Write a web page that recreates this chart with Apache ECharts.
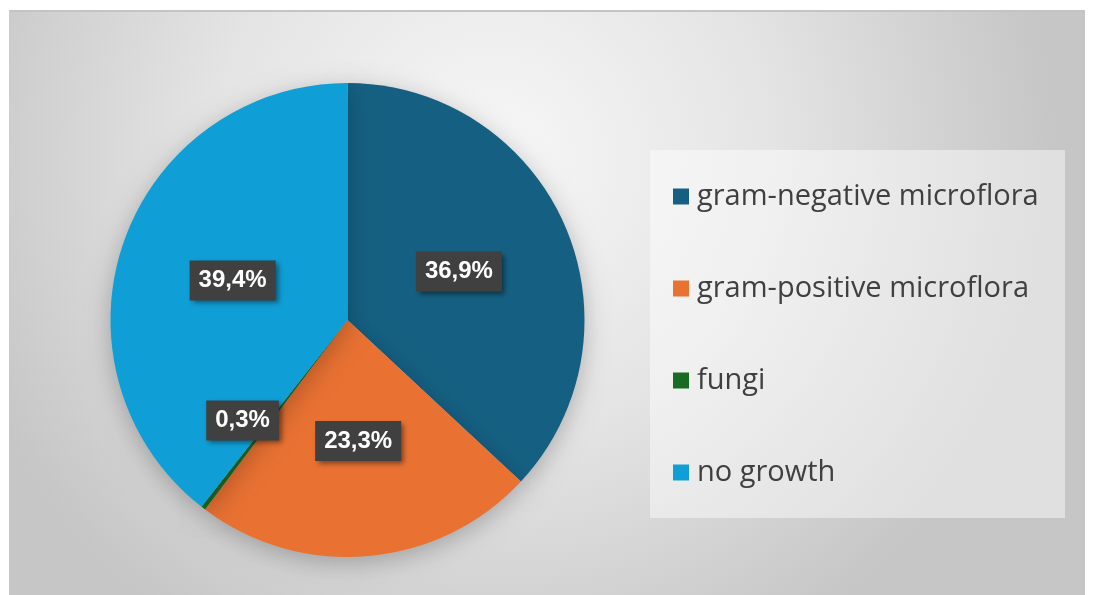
<!DOCTYPE html>
<html>
<head>
<meta charset="utf-8">
<script src="https://cdn.jsdelivr.net/npm/echarts@6/dist/echarts.min.js"></script>
<style>
html,body{margin:0;padding:0;background:#fff;}
#c{width:1093px;height:595px;}
</style>
</head>
<body>
<div id="c"></div>
<script>
const categories = ['gram-negative microflora', 'gram-positive microflora', 'fungi', 'no growth'];
const values = [36.9, 23.3, 0.3, 39.4];
const colors = ['#156082', '#E97132', '#196B24', '#0F9ED5'];

const chart = echarts.init(document.getElementById('c'));
const data = categories.map((name, i) => {
  const d = { name: name, value: values[i], itemStyle: { color: colors[i] } };
  if (name === 'fungi') d.label = { offset: [-31, 4] };
  return d;
});

chart.setOption({
  backgroundColor: '#ffffff',
  animation: false,
  graphic: [
    {
      type: 'rect', z: -10, silent: true,
      shape: { x: 9, y: 10, width: 1076, height: 590 },
      style: {
        fill: {
          type: 'radial', x: 0.45, y: 0.25, r: 0.95,
          colorStops: [
            { offset: 0, color: '#f7f7f7' },
            { offset: 0.5, color: '#e4e4e4' },
            { offset: 1, color: '#c6c6c6' }
          ]
        }
      }
    },
    {
      type: 'rect', z: -9, silent: true,
      shape: { x: 9, y: 10, width: 1076, height: 2 },
      style: { fill: '#c4c4c4' }
    },
    {
      type: 'rect', z: -8, silent: true,
      shape: { x: 650, y: 150, width: 415, height: 368 },
      style: { fill: 'rgba(255,255,255,0.45)' }
    }
  ],
  legend: {
    orient: 'vertical',
    left: 673,
    top: 182,
    padding: 0,
    itemWidth: 16,
    itemHeight: 16,
    itemGap: 63,
    icon: 'rect',
    textStyle: {
      fontFamily: 'Open Sans',
      fontSize: 29,
      color: '#404040',
      lineHeight: 29,
      padding: [0, 0, 0, 3]
    },
    data: categories
  },
  series: [{
    type: 'pie',
    center: [347.5, 320],
    radius: [0, 237],
    startAngle: 90,
    clockwise: true,
    avoidLabelOverlap: false,
    itemStyle: {
      shadowBlur: 25,
      shadowColor: 'rgba(0,0,0,0.25)',
      shadowOffsetY: 6
    },
    label: {
      show: true,
      position: 'inside',
      formatter: p => p.value.toFixed(1).replace('.', ',') + '%',
      fontFamily: 'Liberation Sans, Arial',
      fontWeight: 'bold',
      fontSize: 24,
      lineHeight: 22,
      color: '#ffffff',
      backgroundColor: '#404040',
      padding: [9, 9],
      shadowBlur: 5,
      shadowOffsetX: 3,
      shadowOffsetY: 3,
      shadowColor: 'rgba(0,0,0,0.45)',
      textShadowBlur: 0
    },
    labelLine: { show: false },
    emphasis: { disabled: true },
    data: data
  }]
});
</script>
</body>
</html>
